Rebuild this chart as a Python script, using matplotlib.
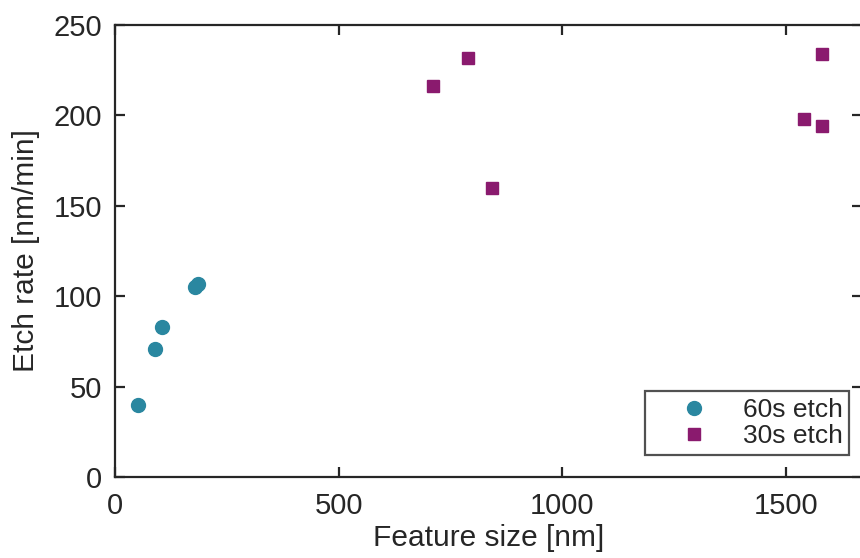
import matplotlib
matplotlib.use("Agg")
import matplotlib.pyplot as plt

plt.rcParams["font.family"] = ["Liberation Sans", "DejaVu Sans"]

# feature size [nm] and etch rate [nm/min]
size_60s = [51, 89, 105, 179, 186]
rate_60s = [40, 71, 83, 105, 107]

size_30s = [711, 789, 843, 1540, 1580, 1580]
rate_30s = [216, 232, 160, 198, 234, 194]

xticks = [0, 500, 1000, 1500]
yticks = [0, 50, 100, 150, 200, 250]

teal = "#2a87a0"
purple = "#8a1a6e"
ink = "#262626"

fig = plt.figure(figsize=(8.6, 5.58), dpi=100)
ax = fig.add_axes([0.1337, 0.1452, 0.8690, 0.8100])

ax.plot(size_60s, rate_60s, "o", color=teal, markersize=10, label="60s etch")
ax.plot(size_30s, rate_30s, "s", color=purple, markersize=8.5, label="30s etch")

ax.set_xlim(0, 1670)
ax.set_ylim(0, 250)
ax.set_xticks(xticks)
ax.set_yticks(yticks)

for sp in ax.spines.values():
    sp.set_linewidth(1.6)
    sp.set_color(ink)
ax.tick_params(direction="in", length=7, width=1.6, color=ink, labelcolor=ink,
               labelsize=21, top=True, right=True)
ax.tick_params(axis="y", pad=9)
ax.tick_params(axis="x", pad=11)

ax.set_xlabel("Feature size [nm]", fontsize=21.5, color=ink, labelpad=3)
ax.set_ylabel("Etch rate [nm/min]", fontsize=21.5, color=ink, labelpad=10)

leg = ax.legend(loc="lower right", bbox_to_anchor=(849 / 860, 1 - 455 / 558),
                bbox_transform=fig.transFigure, fontsize=19, frameon=True,
                fancybox=False, edgecolor=ink, borderpad=0.25,
                handletextpad=0.25, labelspacing=0.1, markerfirst=True,
                borderaxespad=0, handlelength=3.2)
leg.get_frame().set_linewidth(1.6)
for t in leg.get_texts():
    t.set_color(ink)

fig.savefig("out.png", dpi=100)
